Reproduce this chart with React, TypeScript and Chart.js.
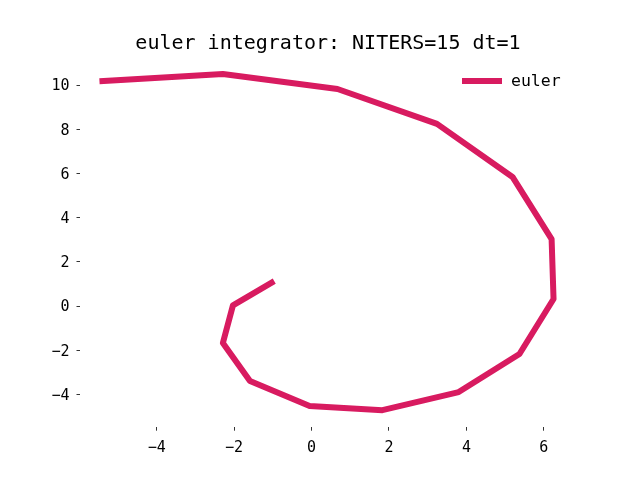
import React, { useEffect, useRef } from "react";
import { Chart, registerables } from "chart.js";

Chart.register(...registerables);

const TITLE = "euler integrator: NITERS=15 dt=1";
const SERIES_LABEL = "euler";
const xValues = [-1.03, -2.03, -2.29, -1.59, -0.05, 1.83, 3.8, 5.37, 6.25, 6.2, 5.19, 3.24, 0.67, -2.29, -5.4];
const yValues = [1.06, 0.03, -1.67, -3.39, -4.52, -4.71, -3.89, -2.17, 0.32, 3.03, 5.84, 8.24, 9.82, 10.5, 10.18];
const xTicks = [-4, -2, 0, 2, 4, 6];
const yTicks = [-4, -2, 0, 2, 4, 6, 8, 10];

const COLOR = "#d81b60";
const MONO = "'DejaVu Sans Mono', monospace";

const fmt = (v: number) => (v < 0 ? "\u2212" + Math.abs(v) : String(v));

export default function App() {
  const ref = useRef<HTMLCanvasElement | null>(null);
  useEffect(() => {
    const canvas = ref.current;
    if (!canvas) return;
    const overlay = {
      id: "overlay",
      afterDraw(chart: any) {
        const ctx = chart.ctx;
        const ca = chart.chartArea;
        ctx.save();
        ctx.fillStyle = "#000";
        ctx.font = `20px ${MONO}`;
        ctx.textAlign = "center";
        ctx.textBaseline = "alphabetic";
        ctx.fillText(TITLE, (ca.left + ca.right) / 2, ca.top - 8.7);
        // legend
        const ly = 81;
        ctx.strokeStyle = COLOR;
        ctx.lineWidth = 6;
        ctx.lineCap = "butt";
        ctx.beginPath();
        ctx.moveTo(462, ly);
        ctx.lineTo(502, ly);
        ctx.stroke();
        ctx.font = `16.5px ${MONO}`;
        ctx.textAlign = "left";
        ctx.textBaseline = "alphabetic";
        ctx.fillText(chart.data.datasets[0].label, 511, 85.7);
        ctx.restore();
      },
    };
    const chart = new Chart(canvas, {
      type: "scatter",
      data: {
        datasets: [
          {
            label: SERIES_LABEL,
            data: xValues.map((x, i) => ({ x, y: yValues[i] })),
            showLine: true,
            borderColor: COLOR,
            backgroundColor: COLOR,
            borderWidth: 6,
            pointRadius: 0,
            pointHoverRadius: 0,
            borderJoinStyle: "round",
            borderCapStyle: "square",
            tension: 0,
          },
        ],
      },
      options: {
        responsive: false,
        animation: false,
        events: [],
        layout: { padding: { left: 0, right: 64, top: 57.6, bottom: 0 } },
        plugins: {
          legend: { display: false },
          title: { display: false },
          tooltip: { enabled: false },
        },
        scales: {
          x: {
            type: "linear",
            min: -5.98,
            max: 6.83,
            border: { display: false },
            grid: {
              display: true,
              drawOnChartArea: false,
              drawTicks: true,
              tickLength: 3.5,
              tickWidth: 0.8,
              tickColor: "#000",
            },
            ticks: {
              color: "#000",
              font: { family: MONO, size: 15 },
              padding: 8,
              maxRotation: 0,
              autoSkip: false,
              callback: (v: any) => fmt(Number(v)),
            },
            afterBuildTicks: (scale: any) => {
              scale.ticks = xTicks.map((v) => ({ value: v }));
            },
            afterFit: (scale: any) => {
              scale.height = 52.8;
            },
          },
          y: {
            type: "linear",
            min: -5.48,
            max: 11.24,
            border: { display: false },
            grid: {
              display: true,
              drawOnChartArea: false,
              drawTicks: true,
              tickLength: 3.5,
              tickWidth: 0.8,
              tickColor: "#000",
            },
            ticks: {
              color: "#000",
              font: { family: MONO, size: 15 },
              padding: 7,
              labelOffset: 1.5,
              autoSkip: false,
              callback: (v: any) => fmt(Number(v)),
            },
            afterBuildTicks: (scale: any) => {
              scale.ticks = yTicks.map((v) => ({ value: v }));
            },
            afterFit: (scale: any) => {
              scale.width = 80;
            },
          },
        },
      },
      plugins: [overlay],
    } as any);
    return () => chart.destroy();
  }, []);
  return (
    <div style={{ position: "fixed", left: 0, top: 0, width: 640, height: 480, background: "#fff" }}>
      <canvas ref={ref} width={640} height={480} style={{ width: 640, height: 480, display: "block" }} />
    </div>
  );
}
